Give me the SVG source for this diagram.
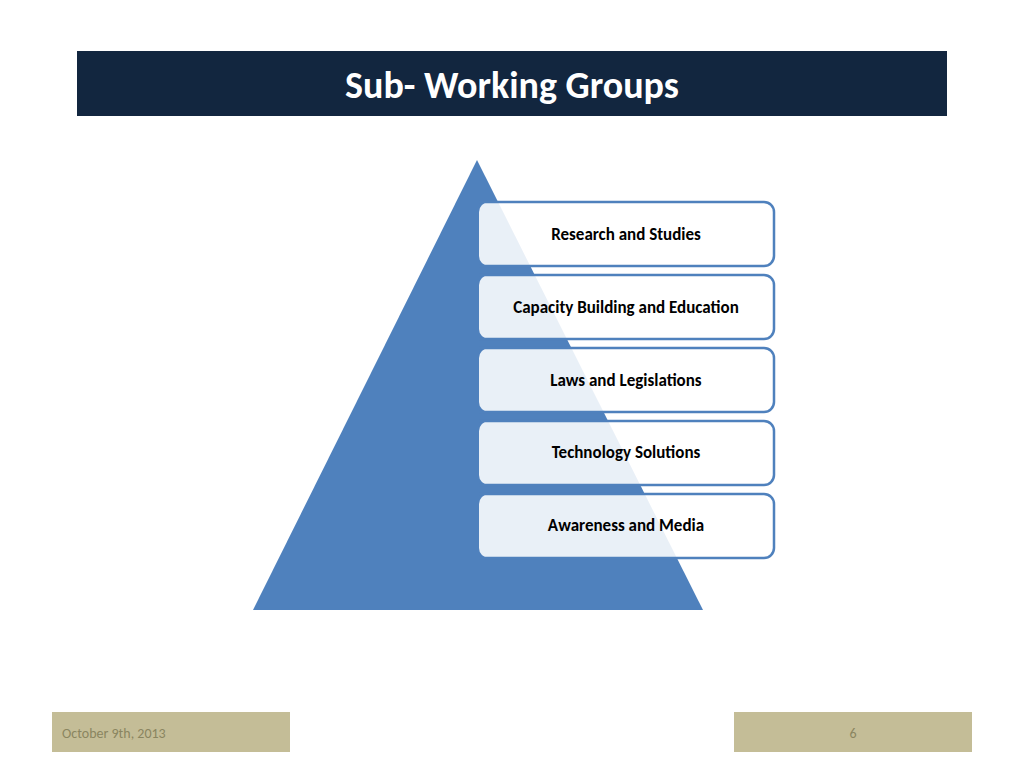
<svg xmlns="http://www.w3.org/2000/svg" width="1024" height="768" viewBox="0 0 1024 768">
<style>
.box{fill:#ffffff;fill-opacity:0.88}
.edge{fill:none;stroke:#4f81bd;stroke-width:2.5}
.lbl{font-family:Calibri,Carlito,"Liberation Sans",sans-serif;font-weight:bold;font-size:17px;fill:#000;text-anchor:middle}
.ft{font-family:Calibri,Carlito,"Liberation Sans",sans-serif;font-size:14px;fill:#8a8560}
</style>
<rect width="1024" height="768" fill="#fff"/>
<rect x="77" y="51" width="870" height="65" fill="#12263f"/>
<text x="512" y="98" font-family="Calibri,Carlito,'Liberation Sans',sans-serif" font-weight="bold" font-size="38" fill="#fff" text-anchor="middle">Sub- Working Groups</text>
<polygon id="pyramid" points="477,160 703,610 253,610" fill="#4f81bd"/>
<g id="n1"><rect class="box" x="479" y="202" width="295" height="64" rx="10"/><path class="edge" d="M479,202 H764 A10,10 0 0 1 774,212 V256 A10,10 0 0 1 764,266 H479"/><text class="lbl" x="626" y="240">Research and Studies</text></g>
<g id="n2"><rect class="box" x="479" y="275" width="295" height="64" rx="10"/><path class="edge" d="M479,275 H764 A10,10 0 0 1 774,285 V329 A10,10 0 0 1 764,339 H479"/><text class="lbl" x="626" y="313">Capacity Building and Education</text></g>
<g id="n3"><rect class="box" x="479" y="348" width="295" height="64" rx="10"/><path class="edge" d="M479,348 H764 A10,10 0 0 1 774,358 V402 A10,10 0 0 1 764,412 H479"/><text class="lbl" x="626" y="386">Laws and Legislations</text></g>
<g id="n4"><rect class="box" x="479" y="421" width="295" height="64" rx="10"/><path class="edge" d="M479,421 H764 A10,10 0 0 1 774,431 V475 A10,10 0 0 1 764,485 H479"/><text class="lbl" x="626" y="458">Technology Solutions</text></g>
<g id="n5"><rect class="box" x="479" y="494" width="295" height="64" rx="10"/><path class="edge" d="M479,494 H764 A10,10 0 0 1 774,504 V548 A10,10 0 0 1 764,558 H479"/><text class="lbl" x="626" y="531">Awareness and Media</text></g>
<g id="connectors"/>
<rect x="52" y="712" width="238" height="40" fill="#c4bd97"/>
<text class="ft" x="62" y="738">October 9th, 2013</text>
<rect x="734" y="712" width="238" height="40" fill="#c4bd97"/>
<text class="ft" x="853" y="738" text-anchor="middle">6</text>
</svg>
